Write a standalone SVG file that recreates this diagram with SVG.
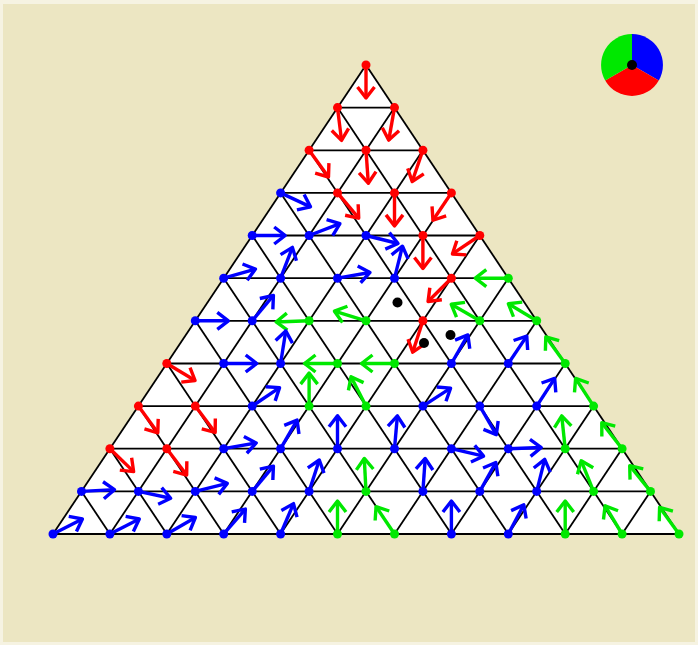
<svg xmlns="http://www.w3.org/2000/svg" xmlns:xlink="http://www.w3.org/1999/xlink" width="698" height="645" viewBox="0 0 698 645">
<style>
.grid line{stroke:#000;stroke-width:1.8}
.r{stroke:#f00;fill:#f00}
.b{stroke:#00f;fill:#00f}
.g{stroke:#00e800;fill:#00e800}
use{fill:none;stroke-width:3.4}
circle{stroke:none}
</style>
<defs>
<g id="arr" style="fill:none" stroke-linejoin="round"><line x1="0" y1="0" x2="33" y2="0"/><polyline points="22,-8.5 33,0 22,8.5"/></g>
</defs>
<rect x="0" y="0" width="698" height="645" fill="#f6f3e2"/>
<rect x="3" y="4" width="692" height="638" fill="#ece6c2"/>
<polygon points="366,65 53,534 679,534" fill="#fff"/>
<g id="legend">
<path d="M632,65 L632,34 A31,31 0 0 1 658.8,80.5 Z" fill="#00f"/>
<path d="M632,65 L658.8,80.5 A31,31 0 0 1 605.2,80.5 Z" fill="#f00"/>
<path d="M632,65 L605.2,80.5 A31,31 0 0 1 632,34 Z" fill="#00e800"/>
<circle cx="632" cy="65" r="5" fill="#000"/>
</g>
<g id="connectors" class="grid">
<line x1="337.5" y1="107.6" x2="394.5" y2="107.6"/>
<line x1="309.1" y1="150.3" x2="422.9" y2="150.3"/>
<line x1="280.6" y1="192.9" x2="451.4" y2="192.9"/>
<line x1="252.2" y1="235.5" x2="479.8" y2="235.5"/>
<line x1="223.7" y1="278.2" x2="508.3" y2="278.2"/>
<line x1="195.3" y1="320.8" x2="536.7" y2="320.8"/>
<line x1="166.8" y1="363.5" x2="565.2" y2="363.5"/>
<line x1="138.4" y1="406.1" x2="593.6" y2="406.1"/>
<line x1="109.9" y1="448.7" x2="622.1" y2="448.7"/>
<line x1="81.5" y1="491.4" x2="650.5" y2="491.4"/>
<line x1="53" y1="534" x2="679" y2="534"/>
<line x1="366" y1="65" x2="53" y2="534"/>
<line x1="394.5" y1="107.6" x2="109.9" y2="534"/>
<line x1="422.9" y1="150.3" x2="166.8" y2="534"/>
<line x1="451.4" y1="192.9" x2="223.7" y2="534"/>
<line x1="479.8" y1="235.5" x2="280.6" y2="534"/>
<line x1="508.3" y1="278.2" x2="337.5" y2="534"/>
<line x1="536.7" y1="320.8" x2="394.5" y2="534"/>
<line x1="565.2" y1="363.5" x2="451.4" y2="534"/>
<line x1="593.6" y1="406.1" x2="508.3" y2="534"/>
<line x1="622.1" y1="448.7" x2="565.2" y2="534"/>
<line x1="650.5" y1="491.4" x2="622.1" y2="534"/>
<line x1="366" y1="65" x2="679" y2="534"/>
<line x1="337.5" y1="107.6" x2="622.1" y2="534"/>
<line x1="309.1" y1="150.3" x2="565.2" y2="534"/>
<line x1="280.6" y1="192.9" x2="508.3" y2="534"/>
<line x1="252.2" y1="235.5" x2="451.4" y2="534"/>
<line x1="223.7" y1="278.2" x2="394.5" y2="534"/>
<line x1="195.3" y1="320.8" x2="337.5" y2="534"/>
<line x1="166.8" y1="363.5" x2="280.6" y2="534"/>
<line x1="138.4" y1="406.1" x2="223.7" y2="534"/>
<line x1="109.9" y1="448.7" x2="166.8" y2="534"/>
<line x1="81.5" y1="491.4" x2="109.9" y2="534"/>
</g>
<g id="nodes">
<g id="n0-0" class="r"><use xlink:href="#arr" transform="translate(366 65) rotate(90)"/><circle cx="366" cy="65" r="4.5"/></g>
<g id="n1-0" class="r"><use xlink:href="#arr" transform="translate(337.5 107.6) rotate(83)"/><circle cx="337.5" cy="107.6" r="4.5"/></g>
<g id="n1-1" class="r"><use xlink:href="#arr" transform="translate(394.5 107.6) rotate(100)"/><circle cx="394.5" cy="107.6" r="4.5"/></g>
<g id="n2-0" class="r"><use xlink:href="#arr" transform="translate(309.1 150.3) rotate(54)"/><circle cx="309.1" cy="150.3" r="4.5"/></g>
<g id="n2-1" class="r"><use xlink:href="#arr" transform="translate(366 150.3) rotate(86)"/><circle cx="366" cy="150.3" r="4.5"/></g>
<g id="n2-2" class="r"><use xlink:href="#arr" transform="translate(422.9 150.3) rotate(109)"/><circle cx="422.9" cy="150.3" r="4.5"/></g>
<g id="n3-0" class="b"><use xlink:href="#arr" transform="translate(280.6 192.9) rotate(25)"/><circle cx="280.6" cy="192.9" r="4.5"/></g>
<g id="n3-1" class="r"><use xlink:href="#arr" transform="translate(337.5 192.9) rotate(50)"/><circle cx="337.5" cy="192.9" r="4.5"/></g>
<g id="n3-2" class="r"><use xlink:href="#arr" transform="translate(394.5 192.9) rotate(90)"/><circle cx="394.5" cy="192.9" r="4.5"/></g>
<g id="n3-3" class="r"><use xlink:href="#arr" transform="translate(451.4 192.9) rotate(124)"/><circle cx="451.4" cy="192.9" r="4.5"/></g>
<g id="n4-0" class="b"><use xlink:href="#arr" transform="translate(252.2 235.5) rotate(0)"/><circle cx="252.2" cy="235.5" r="4.5"/></g>
<g id="n4-1" class="b"><use xlink:href="#arr" transform="translate(309.1 235.5) rotate(-21)"/><circle cx="309.1" cy="235.5" r="4.5"/></g>
<g id="n4-2" class="b"><use xlink:href="#arr" transform="translate(366 235.5) rotate(14)"/><circle cx="366" cy="235.5" r="4.5"/></g>
<g id="n4-3" class="r"><use xlink:href="#arr" transform="translate(422.9 235.5) rotate(90)"/><circle cx="422.9" cy="235.5" r="4.5"/></g>
<g id="n4-4" class="r"><use xlink:href="#arr" transform="translate(479.8 235.5) rotate(146)"/><circle cx="479.8" cy="235.5" r="4.5"/></g>
<g id="n5-0" class="b"><use xlink:href="#arr" transform="translate(223.7 278.2) rotate(-16)"/><circle cx="223.7" cy="278.2" r="4.5"/></g>
<g id="n5-1" class="b"><use xlink:href="#arr" transform="translate(280.6 278.2) rotate(-69)"/><circle cx="280.6" cy="278.2" r="4.5"/></g>
<g id="n5-2" class="b"><use xlink:href="#arr" transform="translate(337.5 278.2) rotate(-10)"/><circle cx="337.5" cy="278.2" r="4.5"/></g>
<g id="n5-3" class="b"><use xlink:href="#arr" transform="translate(394.5 278.2) rotate(-76)"/><circle cx="394.5" cy="278.2" r="4.5"/></g>
<g id="n5-4" class="r"><use xlink:href="#arr" transform="translate(451.4 278.2) rotate(135)"/><circle cx="451.4" cy="278.2" r="4.5"/></g>
<g id="n5-5" class="g"><use xlink:href="#arr" transform="translate(508.3 278.2) rotate(180)"/><circle cx="508.3" cy="278.2" r="4.5"/></g>
<g id="n6-0" class="b"><use xlink:href="#arr" transform="translate(195.3 320.8) rotate(0)"/><circle cx="195.3" cy="320.8" r="4.5"/></g>
<g id="n6-1" class="b"><use xlink:href="#arr" transform="translate(252.2 320.8) rotate(-50)"/><circle cx="252.2" cy="320.8" r="4.5"/></g>
<g id="n6-2" class="g"><use xlink:href="#arr" transform="translate(309.1 320.8) rotate(178)"/><circle cx="309.1" cy="320.8" r="4.5"/></g>
<g id="n6-3" class="g"><use xlink:href="#arr" transform="translate(366 320.8) rotate(-163)"/><circle cx="366" cy="320.8" r="4.5"/></g>
<g id="n6-4" class="r"><use xlink:href="#arr" transform="translate(422.9 320.8) rotate(108)"/><circle cx="422.9" cy="320.8" r="4.5"/></g>
<g id="n6-5" class="g"><use xlink:href="#arr" transform="translate(479.8 320.8) rotate(-150)"/><circle cx="479.8" cy="320.8" r="4.5"/></g>
<g id="n6-6" class="g"><use xlink:href="#arr" transform="translate(536.7 320.8) rotate(-149)"/><circle cx="536.7" cy="320.8" r="4.5"/></g>
<g id="n7-0" class="r"><use xlink:href="#arr" transform="translate(166.8 363.5) rotate(31)"/><circle cx="166.8" cy="363.5" r="4.5"/></g>
<g id="n7-1" class="b"><use xlink:href="#arr" transform="translate(223.7 363.5) rotate(0)"/><circle cx="223.7" cy="363.5" r="4.5"/></g>
<g id="n7-2" class="b"><use xlink:href="#arr" transform="translate(280.6 363.5) rotate(-81)"/><circle cx="280.6" cy="363.5" r="4.5"/></g>
<g id="n7-3" class="g"><use xlink:href="#arr" transform="translate(337.5 363.5) rotate(180)"/><circle cx="337.5" cy="363.5" r="4.5"/></g>
<g id="n7-4" class="g"><use xlink:href="#arr" transform="translate(394.5 363.5) rotate(180)"/><circle cx="394.5" cy="363.5" r="4.5"/></g>
<g id="n7-5" class="b"><use xlink:href="#arr" transform="translate(451.4 363.5) rotate(-60)"/><circle cx="451.4" cy="363.5" r="4.5"/></g>
<g id="n7-6" class="b"><use xlink:href="#arr" transform="translate(508.3 363.5) rotate(-56)"/><circle cx="508.3" cy="363.5" r="4.5"/></g>
<g id="n7-7" class="g"><use xlink:href="#arr" transform="translate(565.2 363.5) rotate(-126)"/><circle cx="565.2" cy="363.5" r="4.5"/></g>
<g id="n8-0" class="r"><use xlink:href="#arr" transform="translate(138.4 406.1) rotate(54)"/><circle cx="138.4" cy="406.1" r="4.5"/></g>
<g id="n8-1" class="r"><use xlink:href="#arr" transform="translate(195.3 406.1) rotate(53)"/><circle cx="195.3" cy="406.1" r="4.5"/></g>
<g id="n8-2" class="b"><use xlink:href="#arr" transform="translate(252.2 406.1) rotate(-34)"/><circle cx="252.2" cy="406.1" r="4.5"/></g>
<g id="n8-3" class="g"><use xlink:href="#arr" transform="translate(309.1 406.1) rotate(-90)"/><circle cx="309.1" cy="406.1" r="4.5"/></g>
<g id="n8-4" class="g"><use xlink:href="#arr" transform="translate(366 406.1) rotate(-117)"/><circle cx="366" cy="406.1" r="4.5"/></g>
<g id="n8-5" class="b"><use xlink:href="#arr" transform="translate(422.9 406.1) rotate(-33)"/><circle cx="422.9" cy="406.1" r="4.5"/></g>
<g id="n8-6" class="b"><use xlink:href="#arr" transform="translate(479.8 406.1) rotate(60)"/><circle cx="479.8" cy="406.1" r="4.5"/></g>
<g id="n8-7" class="b"><use xlink:href="#arr" transform="translate(536.7 406.1) rotate(-57)"/><circle cx="536.7" cy="406.1" r="4.5"/></g>
<g id="n8-8" class="g"><use xlink:href="#arr" transform="translate(593.6 406.1) rotate(-123)"/><circle cx="593.6" cy="406.1" r="4.5"/></g>
<g id="n9-0" class="r"><use xlink:href="#arr" transform="translate(109.9 448.7) rotate(44)"/><circle cx="109.9" cy="448.7" r="4.5"/></g>
<g id="n9-1" class="r"><use xlink:href="#arr" transform="translate(166.8 448.7) rotate(53)"/><circle cx="166.8" cy="448.7" r="4.5"/></g>
<g id="n9-2" class="b"><use xlink:href="#arr" transform="translate(223.7 448.7) rotate(-10)"/><circle cx="223.7" cy="448.7" r="4.5"/></g>
<g id="n9-3" class="b"><use xlink:href="#arr" transform="translate(280.6 448.7) rotate(-60)"/><circle cx="280.6" cy="448.7" r="4.5"/></g>
<g id="n9-4" class="b"><use xlink:href="#arr" transform="translate(337.5 448.7) rotate(-90)"/><circle cx="337.5" cy="448.7" r="4.5"/></g>
<g id="n9-5" class="b"><use xlink:href="#arr" transform="translate(394.5 448.7) rotate(-85)"/><circle cx="394.5" cy="448.7" r="4.5"/></g>
<g id="n9-6" class="b"><use xlink:href="#arr" transform="translate(451.4 448.7) rotate(13)"/><circle cx="451.4" cy="448.7" r="4.5"/></g>
<g id="n9-7" class="b"><use xlink:href="#arr" transform="translate(508.3 448.7) rotate(-2)"/><circle cx="508.3" cy="448.7" r="4.5"/></g>
<g id="n9-8" class="g"><use xlink:href="#arr" transform="translate(565.2 448.7) rotate(-96)"/><circle cx="565.2" cy="448.7" r="4.5"/></g>
<g id="n9-9" class="g"><use xlink:href="#arr" transform="translate(622.1 448.7) rotate(-128)"/><circle cx="622.1" cy="448.7" r="4.5"/></g>
<g id="n10-0" class="b"><use xlink:href="#arr" transform="translate(81.5 491.4) rotate(-3)"/><circle cx="81.5" cy="491.4" r="4.5"/></g>
<g id="n10-1" class="b"><use xlink:href="#arr" transform="translate(138.4 491.4) rotate(12)"/><circle cx="138.4" cy="491.4" r="4.5"/></g>
<g id="n10-2" class="b"><use xlink:href="#arr" transform="translate(195.3 491.4) rotate(-14)"/><circle cx="195.3" cy="491.4" r="4.5"/></g>
<g id="n10-3" class="b"><use xlink:href="#arr" transform="translate(252.2 491.4) rotate(-50)"/><circle cx="252.2" cy="491.4" r="4.5"/></g>
<g id="n10-4" class="b"><use xlink:href="#arr" transform="translate(309.1 491.4) rotate(-72)"/><circle cx="309.1" cy="491.4" r="4.5"/></g>
<g id="n10-5" class="g"><use xlink:href="#arr" transform="translate(366 491.4) rotate(-93)"/><circle cx="366" cy="491.4" r="4.5"/></g>
<g id="n10-6" class="b"><use xlink:href="#arr" transform="translate(422.9 491.4) rotate(-86)"/><circle cx="422.9" cy="491.4" r="4.5"/></g>
<g id="n10-7" class="b"><use xlink:href="#arr" transform="translate(479.8 491.4) rotate(-61)"/><circle cx="479.8" cy="491.4" r="4.5"/></g>
<g id="n10-8" class="b"><use xlink:href="#arr" transform="translate(536.7 491.4) rotate(-76)"/><circle cx="536.7" cy="491.4" r="4.5"/></g>
<g id="n10-9" class="g"><use xlink:href="#arr" transform="translate(593.6 491.4) rotate(-112)"/><circle cx="593.6" cy="491.4" r="4.5"/></g>
<g id="n10-10" class="g"><use xlink:href="#arr" transform="translate(650.5 491.4) rotate(-129)"/><circle cx="650.5" cy="491.4" r="4.5"/></g>
<g id="n11-0" class="b"><use xlink:href="#arr" transform="translate(53 534) rotate(-27)"/><circle cx="53" cy="534" r="4.5"/></g>
<g id="n11-1" class="b"><use xlink:href="#arr" transform="translate(109.9 534) rotate(-27)"/><circle cx="109.9" cy="534" r="4.5"/></g>
<g id="n11-2" class="b"><use xlink:href="#arr" transform="translate(166.8 534) rotate(-30)"/><circle cx="166.8" cy="534" r="4.5"/></g>
<g id="n11-3" class="b"><use xlink:href="#arr" transform="translate(223.7 534) rotate(-49)"/><circle cx="223.7" cy="534" r="4.5"/></g>
<g id="n11-4" class="b"><use xlink:href="#arr" transform="translate(280.6 534) rotate(-67)"/><circle cx="280.6" cy="534" r="4.5"/></g>
<g id="n11-5" class="g"><use xlink:href="#arr" transform="translate(337.5 534) rotate(-90)"/><circle cx="337.5" cy="534" r="4.5"/></g>
<g id="n11-6" class="g"><use xlink:href="#arr" transform="translate(394.5 534) rotate(-124)"/><circle cx="394.5" cy="534" r="4.5"/></g>
<g id="n11-7" class="b"><use xlink:href="#arr" transform="translate(451.4 534) rotate(-90)"/><circle cx="451.4" cy="534" r="4.5"/></g>
<g id="n11-8" class="b"><use xlink:href="#arr" transform="translate(508.3 534) rotate(-62)"/><circle cx="508.3" cy="534" r="4.5"/></g>
<g id="n11-9" class="g"><use xlink:href="#arr" transform="translate(565.2 534) rotate(-90)"/><circle cx="565.2" cy="534" r="4.5"/></g>
<g id="n11-10" class="g"><use xlink:href="#arr" transform="translate(622.1 534) rotate(-121)"/><circle cx="622.1" cy="534" r="4.5"/></g>
<g id="n11-11" class="g"><use xlink:href="#arr" transform="translate(679 534) rotate(-126)"/><circle cx="679" cy="534" r="4.5"/></g>
</g>
<g id="points" fill="#000">
<circle cx="397.5" cy="302.5" r="5"/>
<circle cx="424" cy="343" r="5"/>
<circle cx="450.5" cy="335" r="5"/>
</g>
</svg>
